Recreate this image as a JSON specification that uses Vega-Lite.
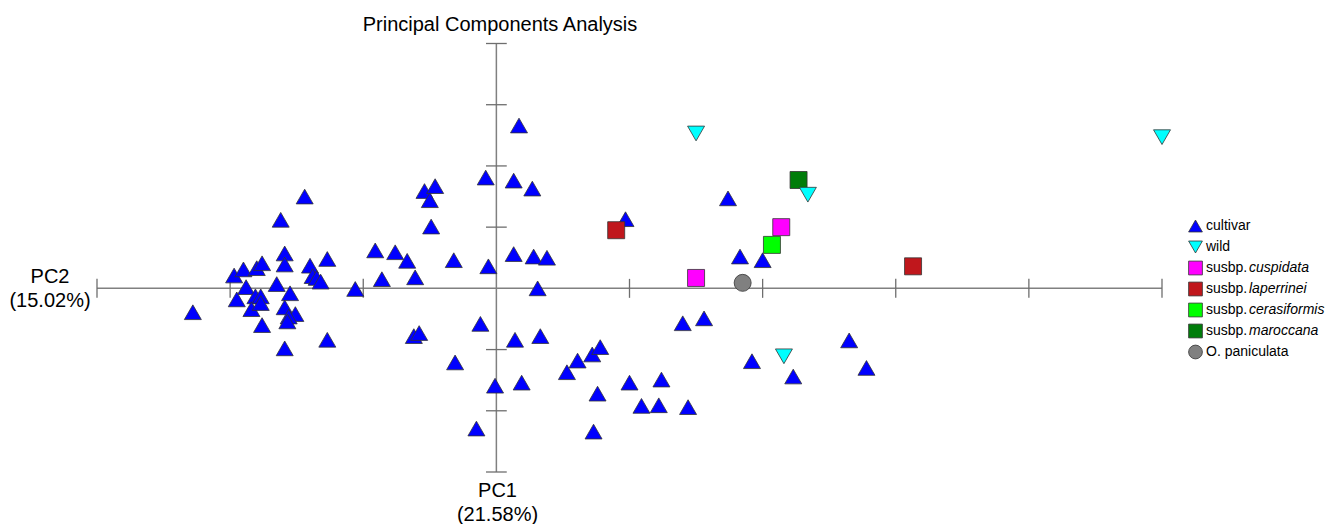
{
  "$schema": "https://vega.github.io/schema/vega-lite/v6.json",
  "autosize": {"type": "none"},
  "padding": {"left": 97, "top": 43.5, "right": 174, "bottom": 52.5},
  "width": 1065,
  "height": 428.5,
  "background": "white",
  "config": {"view": {"stroke": null}},
  "title": {
    "text": "Principal Components Analysis",
    "font": "Liberation Sans",
    "fontSize": 20,
    "fontWeight": "normal",
    "color": "black",
    "anchor": "middle",
    "frame": "group",
    "dx": -129.5,
    "offset": 8
  },
  "datasets": {
    "one": [{"k": 0}],
    "xticks": [{"v": -3}, {"v": -2}, {"v": -1}, {"v": 1}, {"v": 2}, {"v": 3}, {"v": 4}, {"v": 5}],
    "yticks": [{"v": -3}, {"v": -2}, {"v": -1}, {"v": 1}, {"v": 2}, {"v": 3}, {"v": 4}],
    "points": [
      {"group": "cultivar", "pc1": 0.17, "pc2": 2.66},
      {"group": "cultivar", "pc1": -0.08, "pc2": 1.81},
      {"group": "cultivar", "pc1": 0.13, "pc2": 1.76},
      {"group": "cultivar", "pc1": 0.27, "pc2": 1.63},
      {"group": "cultivar", "pc1": -0.54, "pc2": 1.59},
      {"group": "cultivar", "pc1": -0.46, "pc2": 1.67},
      {"group": "cultivar", "pc1": -0.5, "pc2": 1.44},
      {"group": "cultivar", "pc1": -1.44, "pc2": 1.5},
      {"group": "cultivar", "pc1": -1.62, "pc2": 1.12},
      {"group": "cultivar", "pc1": -0.49, "pc2": 1.01},
      {"group": "cultivar", "pc1": 0.97, "pc2": 1.13},
      {"group": "cultivar", "pc1": -0.91, "pc2": 0.62},
      {"group": "cultivar", "pc1": -0.76, "pc2": 0.59},
      {"group": "cultivar", "pc1": -0.67, "pc2": 0.45},
      {"group": "cultivar", "pc1": -0.32, "pc2": 0.46},
      {"group": "cultivar", "pc1": -0.06, "pc2": 0.36},
      {"group": "cultivar", "pc1": 0.13, "pc2": 0.56},
      {"group": "cultivar", "pc1": 0.28, "pc2": 0.52},
      {"group": "cultivar", "pc1": 0.38, "pc2": 0.5},
      {"group": "cultivar", "pc1": -1.59, "pc2": 0.57},
      {"group": "cultivar", "pc1": -1.59, "pc2": 0.39},
      {"group": "cultivar", "pc1": -1.27, "pc2": 0.48},
      {"group": "cultivar", "pc1": -1.4, "pc2": 0.37},
      {"group": "cultivar", "pc1": -1.38, "pc2": 0.2},
      {"group": "cultivar", "pc1": -1.35, "pc2": 0.17},
      {"group": "cultivar", "pc1": -1.32, "pc2": 0.11},
      {"group": "cultivar", "pc1": -0.86, "pc2": 0.15},
      {"group": "cultivar", "pc1": -0.61, "pc2": 0.18},
      {"group": "cultivar", "pc1": -1.06, "pc2": -0.01},
      {"group": "cultivar", "pc1": 0.31, "pc2": 0.0},
      {"group": "cultivar", "pc1": -1.97, "pc2": 0.21},
      {"group": "cultivar", "pc1": -1.9, "pc2": 0.31},
      {"group": "cultivar", "pc1": -1.8, "pc2": 0.33},
      {"group": "cultivar", "pc1": -1.76, "pc2": 0.41},
      {"group": "cultivar", "pc1": -1.65, "pc2": 0.07},
      {"group": "cultivar", "pc1": -1.88, "pc2": 0.02},
      {"group": "cultivar", "pc1": -1.81, "pc2": -0.13},
      {"group": "cultivar", "pc1": -1.77, "pc2": -0.13},
      {"group": "cultivar", "pc1": -1.55, "pc2": -0.08},
      {"group": "cultivar", "pc1": -1.95, "pc2": -0.18},
      {"group": "cultivar", "pc1": -1.84, "pc2": -0.34},
      {"group": "cultivar", "pc1": -1.77, "pc2": -0.24},
      {"group": "cultivar", "pc1": -1.59, "pc2": -0.31},
      {"group": "cultivar", "pc1": -1.51, "pc2": -0.42},
      {"group": "cultivar", "pc1": -1.56, "pc2": -0.46},
      {"group": "cultivar", "pc1": -1.57, "pc2": -0.54},
      {"group": "cultivar", "pc1": -1.76, "pc2": -0.6},
      {"group": "cultivar", "pc1": -2.28, "pc2": -0.39},
      {"group": "cultivar", "pc1": -1.59, "pc2": -0.98},
      {"group": "cultivar", "pc1": -1.27, "pc2": -0.84},
      {"group": "cultivar", "pc1": -0.62, "pc2": -0.78},
      {"group": "cultivar", "pc1": -0.58, "pc2": -0.73},
      {"group": "cultivar", "pc1": -0.12, "pc2": -0.58},
      {"group": "cultivar", "pc1": 0.14, "pc2": -0.84},
      {"group": "cultivar", "pc1": 0.33, "pc2": -0.78},
      {"group": "cultivar", "pc1": -0.31, "pc2": -1.21},
      {"group": "cultivar", "pc1": -0.01, "pc2": -1.59},
      {"group": "cultivar", "pc1": 0.19, "pc2": -1.54},
      {"group": "cultivar", "pc1": -0.15, "pc2": -2.29},
      {"group": "cultivar", "pc1": 0.73, "pc2": -2.34},
      {"group": "cultivar", "pc1": 0.53, "pc2": -1.37},
      {"group": "cultivar", "pc1": 0.61, "pc2": -1.18},
      {"group": "cultivar", "pc1": 0.72, "pc2": -1.08},
      {"group": "cultivar", "pc1": 0.78, "pc2": -0.96},
      {"group": "cultivar", "pc1": 0.76, "pc2": -1.72},
      {"group": "cultivar", "pc1": 1.0, "pc2": -1.54},
      {"group": "cultivar", "pc1": 1.24, "pc2": -1.49},
      {"group": "cultivar", "pc1": 1.09, "pc2": -1.92},
      {"group": "cultivar", "pc1": 1.22, "pc2": -1.91},
      {"group": "cultivar", "pc1": 1.44, "pc2": -1.94},
      {"group": "cultivar", "pc1": 1.4, "pc2": -0.57},
      {"group": "cultivar", "pc1": 1.74, "pc2": 1.47},
      {"group": "cultivar", "pc1": 1.83, "pc2": 0.52},
      {"group": "cultivar", "pc1": 2.0, "pc2": 0.46},
      {"group": "cultivar", "pc1": 1.56, "pc2": -0.49},
      {"group": "cultivar", "pc1": 2.65, "pc2": -0.85},
      {"group": "cultivar", "pc1": 1.92, "pc2": -1.19},
      {"group": "cultivar", "pc1": 2.23, "pc2": -1.44},
      {"group": "cultivar", "pc1": 2.78, "pc2": -1.3},
      {"group": "susbp. cuspidata", "pc1": 2.14, "pc2": 1.0},
      {"group": "susbp. cuspidata", "pc1": 1.5, "pc2": 0.17},
      {"group": "susbp. laperrinei", "pc1": 0.9, "pc2": 0.95},
      {"group": "susbp. laperrinei", "pc1": 3.13, "pc2": 0.36},
      {"group": "susbp. cerasiformis", "pc1": 2.07, "pc2": 0.71},
      {"group": "susbp. maroccana", "pc1": 2.27, "pc2": 1.77},
      {"group": "O. paniculata", "pc1": 1.85, "pc2": 0.09},
      {"group": "wild", "pc1": 1.5, "pc2": 2.53},
      {"group": "wild", "pc1": 5.0, "pc2": 2.47},
      {"group": "wild", "pc1": 2.34, "pc2": 1.53},
      {"group": "wild", "pc1": 2.16, "pc2": -1.11}
    ]
  },
  "layer": [
    {
      "data": {"name": "one"},
      "mark": {"type": "rule", "color": "#808080", "strokeWidth": 1.5},
      "encoding": {
        "x": {"datum": -3, "type": "quantitative", "scale": {"domain": [-3, 5], "nice": false, "zero": false}},
        "x2": {"datum": 5},
        "y": {"datum": 0, "type": "quantitative", "scale": {"domain": [-3, 4], "nice": false, "zero": false}}
      }
    },
    {
      "data": {"name": "one"},
      "mark": {"type": "rule", "color": "#808080", "strokeWidth": 1.5},
      "encoding": {
        "y": {"datum": -3, "type": "quantitative"},
        "y2": {"datum": 4},
        "x": {"datum": 0, "type": "quantitative"}
      }
    },
    {
      "data": {"name": "xticks"},
      "mark": {"type": "rule", "color": "#6e6e6e", "strokeWidth": 1.3},
      "encoding": {
        "x": {"field": "v", "type": "quantitative"},
        "y": {"datum": -0.155, "type": "quantitative"},
        "y2": {"datum": 0.155}
      }
    },
    {
      "data": {"name": "yticks"},
      "mark": {"type": "rule", "color": "#6e6e6e", "strokeWidth": 1.3},
      "encoding": {
        "y": {"field": "v", "type": "quantitative"},
        "x": {"datum": -0.078, "type": "quantitative"},
        "x2": {"datum": 0.078}
      }
    },
    {
      "data": {"name": "points"},
      "mark": {"type": "point", "filled": true, "opacity": 1, "stroke": "#333333", "strokeWidth": 0.8},
      "encoding": {
        "x": {
          "field": "pc1",
          "type": "quantitative",
          "axis": {
            "title": ["PC1", "(21.58%)"],
            "domain": false, "ticks": false, "labels": false, "grid": false,
            "titleX": 400, "titleY": 24.7,
            "titleAlign": "center", "titleBaseline": "alphabetic",
            "titleFont": "Liberation Sans", "titleFontSize": 20, "titleFontWeight": "normal",
            "titleColor": "black", "titleLineHeight": 24
          }
        },
        "y": {
          "field": "pc2",
          "type": "quantitative",
          "axis": {
            "title": ["PC2", "(15.02%)"],
            "domain": false, "ticks": false, "labels": false, "grid": false,
            "titleAngle": 0,
            "titleX": -47.5, "titleY": 239,
            "titleAlign": "center", "titleBaseline": "alphabetic",
            "titleFont": "Liberation Sans", "titleFontSize": 20, "titleFontWeight": "normal",
            "titleColor": "black", "titleLineHeight": 24
          }
        },
        "fill": {
          "field": "group",
          "type": "nominal",
          "scale": {
            "domain": ["cultivar", "wild", "susbp. cuspidata", "susbp. laperrinei", "susbp. cerasiformis", "susbp. maroccana", "O. paniculata"],
            "range": ["#0000FF", "#00FFFF", "#FF00FF", "#C0171C", "#00FF00", "#007D0A", "#808080"]
          },
          "legend": {
            "orient": "none", "legendX": 1091, "legendY": 175,
            "title": null, "padding": 0,
            "symbolSize": 190, "symbolStrokeColor": "#333333", "symbolStrokeWidth": 0.8,
            "labelFont": "Liberation Sans", "labelFontSize": 14, "labelColor": "black",
            "labelOffset": 3, "rowPadding": 4,
            "labelExpr": "test(/^susbp/, datum.label) ? 'susbp.' : datum.label"
          }
        },
        "shape": {
          "field": "group",
          "type": "nominal",
          "scale": {
            "domain": ["cultivar", "wild", "susbp. cuspidata", "susbp. laperrinei", "susbp. cerasiformis", "susbp. maroccana", "O. paniculata"],
            "range": ["triangle-up", "triangle-down", "square", "square", "square", "square", "circle"]
          }
        },
        "size": {
          "field": "group",
          "type": "nominal",
          "scale": {
            "domain": ["cultivar", "wild", "susbp. cuspidata", "susbp. laperrinei", "susbp. cerasiformis", "susbp. maroccana", "O. paniculata", "  "],
            "range": [289, 289, 225, 225, 225, 225, 196, 196]
          },
          "legend": null
        },
        "opacity": {
          "field": "group",
          "type": "nominal",
          "scale": {
            "domain": ["cultivar", "wild", "susbp. cuspidata", "susbp. laperrinei", "susbp. cerasiformis", "susbp. maroccana", "O. paniculata", " "],
            "range": [1, 1, 1, 1, 1, 1, 1, 1]
          },
          "legend": {
            "orient": "none", "legendX": 1135, "legendY": 175,
            "title": null, "padding": 0,
            "symbolSize": 190, "symbolType": "M0,0Z",
            "symbolStrokeWidth": 0,
            "labelFont": "Liberation Sans", "labelFontSize": 14, "labelColor": "black",
            "labelFontStyle": "italic",
            "labelOffset": 3, "rowPadding": 7,
            "labelExpr": "test(/^susbp/, datum.label) ? replace(datum.label, 'susbp. ', '') : ''"
          }
        }
      }
    }
  ]
}
